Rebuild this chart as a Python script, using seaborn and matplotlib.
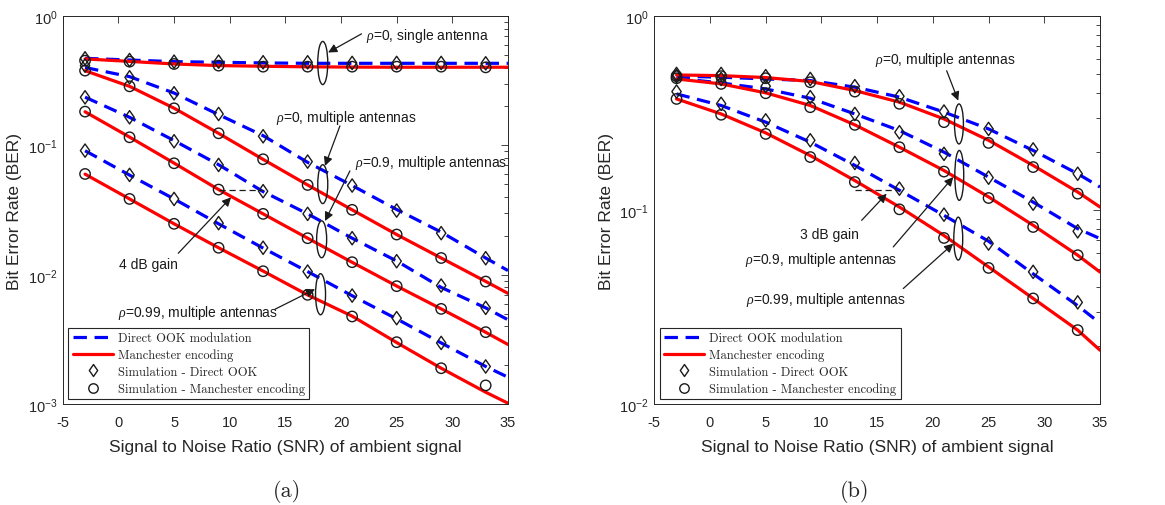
import numpy as np
import pandas as pd
import matplotlib
matplotlib.use("Agg")
import matplotlib.pyplot as plt
import seaborn as sns
from matplotlib.patches import Ellipse
from matplotlib.lines import Line2D
from matplotlib.path import Path
from matplotlib.ticker import LogLocator, LogFormatterSciNotation, NullFormatter, FixedLocator

# ---------------- data ----------------
snr_line = [-3, 1, 5, 9, 13, 17, 21, 25, 29, 33, 35]
snr_sim = [-3, 1, 5, 9, 13, 17, 21, 25, 29, 33]

# (a) analytical curves
a_single_ook = [0.471, 0.457, 0.444, 0.439, 0.434, 0.431, 0.431, 0.431, 0.431, 0.431, 0.431]
a_single_man = [0.466, 0.446, 0.426, 0.414, 0.409, 0.405, 0.403, 0.402, 0.402, 0.402, 0.402]
a_rho0_ook = [0.400, 0.340, 0.254, 0.173, 0.119, 0.074, 0.049, 0.032, 0.0214, 0.0135, 0.0108]
a_rho0_man = [0.378, 0.286, 0.194, 0.124, 0.078, 0.0495, 0.0318, 0.0205, 0.0135, 0.0089, 0.0072]
a_rho09_ook = [0.236, 0.165, 0.109, 0.071, 0.044, 0.0296, 0.0192, 0.0128, 0.0080, 0.00556, 0.0045]
a_rho09_man = [0.182, 0.116, 0.073, 0.0456, 0.0296, 0.0192, 0.0125, 0.0082, 0.00546, 0.0036, 0.0029]
a_rho099_ook = [0.091, 0.059, 0.0386, 0.0248, 0.0161, 0.0106, 0.0069, 0.00457, 0.00298, 0.00196, 0.00162]
a_rho099_man = [0.060, 0.0386, 0.0248, 0.0162, 0.0107, 0.0070, 0.0048, 0.0030, 0.0019, 0.00124, 0.00102]

# (a) simulation points
a_sim_ook_single = [0.471, 0.457, 0.444, 0.444, 0.439, 0.439, 0.434, 0.434, 0.434, 0.431]
a_sim_ook_rho0 = [0.4135, 0.336, 0.2528, 0.175, 0.1177, 0.075, 0.049, 0.0314, 0.021, 0.01345]
a_sim_ook_rho09 = [0.2354, 0.165, 0.1077, 0.0707, 0.0443, 0.0296, 0.0192, 0.01275, 0.00827, 0.00556]
a_sim_ook_rho099 = [0.0912, 0.0592, 0.0386, 0.0251, 0.0162, 0.0106, 0.00692, 0.00463, 0.00298, 0.00196]
a_sim_man_single = [0.452, 0.444, 0.426, 0.4135, 0.406, 0.406, 0.406, 0.406, 0.406, 0.401]
a_sim_man_rho0 = [0.3784, 0.2862, 0.1936, 0.1241, 0.0782, 0.0495, 0.0318, 0.0205, 0.0135, 0.00888]
a_sim_man_rho09 = [0.1825, 0.1156, 0.0728, 0.0456, 0.0296, 0.0192, 0.01253, 0.00818, 0.00546, 0.00361]
a_sim_man_rho099 = [0.0602, 0.0386, 0.0248, 0.0162, 0.01067, 0.00701, 0.00477, 0.00302, 0.0019, 0.0014]

# (b) analytical curves
b_rho0_ook = [0.490, 0.484, 0.474, 0.465, 0.430, 0.382, 0.320, 0.262, 0.203, 0.154, 0.1316]
b_rho0_man = [0.497, 0.493, 0.482, 0.460, 0.413, 0.360, 0.295, 0.229, 0.170, 0.124, 0.1038]
b_rho09_ook = [0.478, 0.452, 0.421, 0.377, 0.313, 0.257, 0.199, 0.148, 0.110, 0.0803, 0.0714]
b_rho09_man = [0.474, 0.447, 0.402, 0.346, 0.275, 0.211, 0.160, 0.117, 0.0836, 0.0586, 0.048]
b_rho099_ook = [0.397, 0.346, 0.284, 0.224, 0.170, 0.1265, 0.094, 0.0692, 0.047, 0.0322, 0.0262]
b_rho099_man = [0.374, 0.313, 0.250, 0.191, 0.142, 0.1038, 0.074, 0.051, 0.0351, 0.0241, 0.0190]

# (b) simulation points
b_sim_ook_rho0 = [0.503, 0.503, 0.490, 0.474, 0.435, 0.386, 0.322, 0.262, 0.2055, 0.154]
b_sim_ook_rho09 = [0.490, 0.474, 0.435, 0.382, 0.313, 0.252, 0.195, 0.147, 0.108, 0.0778]
b_sim_ook_rho099 = [0.408, 0.353, 0.290, 0.229, 0.175, 0.129, 0.0948, 0.0673, 0.0481, 0.0335]
b_sim_man_rho0 = [0.490, 0.490, 0.478, 0.456, 0.408, 0.353, 0.284, 0.222, 0.1667, 0.1216]
b_sim_man_rho09 = [0.478, 0.447, 0.400, 0.339, 0.275, 0.211, 0.158, 0.1155, 0.0819, 0.0586]
b_sim_man_rho099 = [0.374, 0.310, 0.247, 0.1877, 0.1396, 0.101, 0.0719, 0.0504, 0.0351, 0.0241]

legend_labels = ["Direct OOK modulation", "Manchester encoding",
                 "Simulation - Direct OOK", "Simulation - Manchester encoding"]
xlabel = "Signal to Noise Ratio (SNR) of ambient signal"
ylabel = "Bit Error Rate (BER)"

a_gain_x = [9, 13]
a_gain_y = [0.0455, 0.0455]
b_gain_x = [13, 17]
b_gain_y = [0.127, 0.127]

# ---------------- style ----------------
sns.set_theme(style="white")
plt.rcParams['font.family'] = ['Liberation Sans', 'DejaVu Sans']
plt.rcParams['mathtext.fontset'] = 'custom'
plt.rcParams['mathtext.rm'] = 'Liberation Sans'
plt.rcParams['mathtext.it'] = 'Liberation Serif:italic'
plt.rcParams['mathtext.bf'] = 'Liberation Sans:bold'
plt.rcParams['axes.unicode_minus'] = False

BLUE = '#0000ff'
RED = '#ff0000'
FRAME = '#262626'
LW = 2.3
DASH = (0, (4.2, 2.4))
DIAMOND = Path([(0, 1), (0.7, 0), (0, -1), (-0.7, 0), (0, 1)],
               [Path.MOVETO, Path.LINETO, Path.LINETO, Path.LINETO, Path.CLOSEPOLY])

fig = plt.figure(figsize=(11.65, 5.06), dpi=100)
axA = fig.add_axes([0.0539, 0.1990, 0.3821, 0.7674])
axB = fig.add_axes([0.5616, 0.1990, 0.3826, 0.7674])


def draw(ax, ook_lines, man_lines, ook_sims, man_sims, ylim):
    ax.set_yscale('log')
    for yv in ook_lines:
        sns.lineplot(x=snr_line, y=yv, ax=ax, color=BLUE, lw=LW, linestyle=DASH,
                     errorbar=None, estimator=None, sort=False)
    for yv in man_lines:
        sns.lineplot(x=snr_line, y=yv, ax=ax, color=RED, lw=LW,
                     errorbar=None, estimator=None, sort=False)
    for yv in ook_sims:
        sns.scatterplot(x=snr_sim, y=yv, ax=ax, marker=DIAMOND, s=92,
                        facecolors='none', edgecolor='k', linewidths=1.0, zorder=5)
    for yv in man_sims:
        sns.scatterplot(x=snr_sim, y=yv, ax=ax, marker='o', s=56,
                        facecolors='none', edgecolor='k', linewidths=1.0, zorder=5)
    ax.set_xlim(-5, 35)
    ax.set_ylim(*ylim)
    ax.xaxis.set_major_locator(FixedLocator(list(range(-5, 36, 5))))
    ax.yaxis.set_major_locator(LogLocator(base=10, numticks=10))
    ax.yaxis.set_minor_locator(LogLocator(base=10, subs=np.arange(2, 10), numticks=20))
    ax.yaxis.set_minor_formatter(NullFormatter())
    ax.yaxis.set_major_formatter(LogFormatterSciNotation())
    ax.tick_params(axis='both', which='both', direction='in', top=True, right=True,
                   colors=FRAME, labelcolor=FRAME, labelsize=10.5, width=0.6)
    ax.tick_params(axis='x', which='major', pad=8)
    ax.tick_params(axis='y', which='major', pad=4)
    ax.tick_params(which='major', length=5)
    ax.tick_params(which='minor', length=3)
    for sp in ax.spines.values():
        sp.set_color(FRAME)
        sp.set_linewidth(0.7)
    ax.set_xlabel(xlabel, fontsize=12.5, color=FRAME, labelpad=7)
    ax.set_ylabel(ylabel, fontsize=12.5, color=FRAME, labelpad=4)
    handles = [Line2D([], [], color=BLUE, lw=LW, linestyle=DASH),
               Line2D([], [], color=RED, lw=LW),
               Line2D([], [], ls='none', marker=DIAMOND, mfc='none', mec='k', ms=8.6, mew=1.0),
               Line2D([], [], ls='none', marker='o', mfc='none', mec='k', ms=6.8, mew=1.0)]
    leg = ax.legend(handles, legend_labels, loc='lower left', bbox_to_anchor=(0.0125, 0.013),
                    prop={'family': 'cmr10', 'size': 9}, frameon=True, fancybox=False,
                    edgecolor=FRAME, borderaxespad=0, handlelength=3.2, handletextpad=0.4,
                    labelspacing=0.36, borderpad=0.35, framealpha=1)
    leg.get_frame().set_linewidth(0.8)


def ell(ax, xc, yc, w, h):
    ax.add_patch(Ellipse((xc, yc), w, h, transform=ax.transAxes, fill=False,
                         ec='k', lw=1.0, zorder=6))


def arrow(ax, tail, head):
    ax.annotate('', xy=head, xytext=tail, xycoords='axes fraction', textcoords='axes fraction',
                arrowprops=dict(arrowstyle='-|>', color='k', lw=0.9, shrinkA=0, shrinkB=0,
                                mutation_scale=13), zorder=7)


def label(ax, x, y, s, ha='left'):
    ax.text(x, y, s, transform=ax.transAxes, ha=ha, va='center', fontsize=10, color='k', zorder=7)


draw(axA, [a_single_ook, a_rho0_ook, a_rho09_ook, a_rho099_ook],
     [a_single_man, a_rho0_man, a_rho09_man, a_rho099_man],
     [a_sim_ook_single, a_sim_ook_rho0, a_sim_ook_rho09, a_sim_ook_rho099],
     [a_sim_man_single, a_sim_man_rho0, a_sim_man_rho09, a_sim_man_rho099], (1e-3, 1))
draw(axB, [b_rho0_ook, b_rho09_ook, b_rho099_ook],
     [b_rho0_man, b_rho09_man, b_rho099_man],
     [b_sim_ook_rho0, b_sim_ook_rho09, b_sim_ook_rho099],
     [b_sim_man_rho0, b_sim_man_rho09, b_sim_man_rho099], (1e-2, 1))

# gain reference lines
axA.plot(a_gain_x, a_gain_y, color='k', lw=0.9, ls=(0, (5, 3)), zorder=4)
axB.plot(b_gain_x, b_gain_y, color='k', lw=0.9, ls=(0, (5, 3)), zorder=4)

# annotations (a)
label(axA, 0.681, 0.951, r'$\rho$=0, single antenna')
arrow(axA, (0.671, 0.954), (0.596, 0.906))
ell(axA, 0.584, 0.879, 0.0225, 0.111)
label(axA, 0.480, 0.741, r'$\rho$=0, multiple antennas')
arrow(axA, (0.6226, 0.717), (0.589, 0.614))
ell(axA, 0.584, 0.567, 0.0225, 0.100)
label(axA, 0.656, 0.623, r'$\rho$=0.9, multiple antennas')
arrow(axA, (0.645, 0.601), (0.589, 0.472))
ell(axA, 0.5815, 0.425, 0.0225, 0.095)
label(axA, 0.192, 0.3626, '4 dB gain', ha='center')
arrow(axA, (0.2594, 0.389), (0.378, 0.533))
label(axA, 0.1247, 0.238, r'$\rho$=0.99, multiple antennas')
arrow(axA, (0.4766, 0.2448), (0.5665, 0.2964))
ell(axA, 0.579, 0.2835, 0.0225, 0.1057)

# annotations (b)
label(axB, 0.495, 0.889, r'$\rho$=0, multiple antennas')
arrow(axB, (0.656, 0.859), (0.682, 0.782))
ell(axB, 0.6836, 0.722, 0.020, 0.103)
ell(axB, 0.6843, 0.5895, 0.020, 0.1285)
ell(axB, 0.682, 0.4267, 0.020, 0.1105)
label(axB, 0.394, 0.4396, '3 dB gain', ha='center')
arrow(axB, (0.4653, 0.4738), (0.5214, 0.5424))
label(axB, 0.2035, 0.3753, r'$\rho$=0.9, multiple antennas')
arrow(axB, (0.5362, 0.4054), (0.6709, 0.5853))
label(axB, 0.205, 0.27, r'$\rho$=0.99, multiple antennas')
arrow(axB, (0.5587, 0.2982), (0.6709, 0.4139))

fig.text(0.2464, 0.0290, '(a)', family='cmr10', fontsize=16, ha='center', va='center')
fig.text(0.7339, 0.0290, '(b)', family='cmr10', fontsize=16, ha='center', va='center')

fig.savefig('out.png', dpi=100)
